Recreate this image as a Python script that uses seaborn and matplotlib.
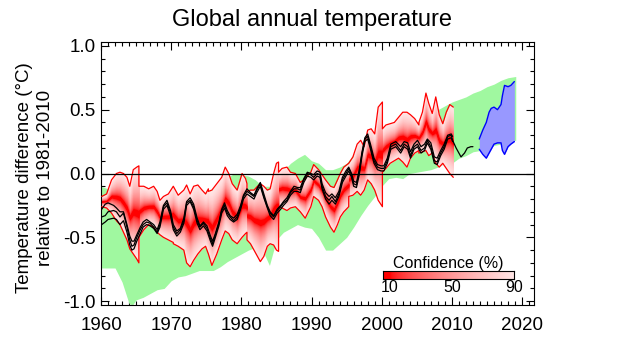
import statistics
import numpy as np
import pandas as pd
import matplotlib
matplotlib.use("Agg")
import matplotlib.pyplot as plt
from matplotlib.ticker import MultipleLocator, FormatStrFormatter
import seaborn as sns

# ---------------- data ----------------
title = "Global annual temperature"
ylabel_lines = ["Temperature difference (\u00b0C)", "relative to 1981-2010"]
legend_title = "Confidence (%)"
legend_ticks = [10, 50, 90]

# green band (hindcast spread)
green_years = [1960.0, 1961, 1962, 1963, 1964, 1964.5, 1965, 1966, 1967, 1968, 1969,
               1970, 1971, 1972, 1973, 1974, 1975, 1976, 1977, 1978, 1979,
               1980, 1981, 1982, 1983, 1984, 1985, 1986, 1987, 1988, 1989,
               1990, 1991, 1992, 1993, 1994, 1995, 1996, 1997, 1998, 1999,
               2000, 2001, 2002, 2003, 2004, 2005, 2006, 2007, 2008, 2009,
               2010, 2011, 2012, 2013, 2014, 2015, 2016, 2017, 2018, 2019.1]
green_upper = [-0.10, -0.12, -0.15, -0.20, -0.25, -0.28, -0.29, -0.30, -0.30, -0.30, -0.30,
               -0.25, -0.23, -0.22, -0.20, -0.17, -0.15, -0.12, -0.08, -0.03, 0.00,
               -0.01, -0.02, -0.05, -0.10, -0.10, -0.06, 0.02, 0.08, 0.12, 0.15,
               0.10, 0.08, 0.03, 0.03, 0.05, 0.08, 0.15, 0.20, 0.25, 0.28,
               0.30, 0.30, 0.32, 0.35, 0.38, 0.40, 0.42, 0.45, 0.50, 0.53,
               0.56, 0.58, 0.60, 0.63, 0.65, 0.68, 0.70, 0.73, 0.75, 0.76]
green_lower = [-0.74, -0.74, -0.74, -0.85, -1.02, -1.03, -0.99, -0.97, -0.94, -0.91, -0.90,
               -0.84, -0.81, -0.80, -0.78, -0.76, -0.76, -0.76, -0.73, -0.69, -0.66,
               -0.63, -0.60, -0.58, -0.60, -0.72, -0.52, -0.46, -0.43, -0.40, -0.42,
               -0.43, -0.50, -0.60, -0.60, -0.55, -0.50, -0.42, -0.33, -0.25, -0.18,
               -0.10, -0.04, -0.03, -0.04, 0.00, 0.01, 0.02, 0.03, 0.05, 0.08,
               0.08, 0.12, 0.14, 0.17, 0.18, 0.18, 0.22, 0.23, 0.25, 0.26]

# red confidence band (90 % limits), 5-year hindcast pieces
red_years = [1960.1, 1960.8, 1961.5, 1962.2, 1962.7, 1963.2, 1963.7, 1964.1, 1964.6, 1965.1, 1965.4,
             1965.4, 1966.1, 1966.8, 1967.5, 1968.0, 1968.4, 1968.9, 1969.6, 1970.3,
             1970.3, 1971.0, 1971.8, 1972.2, 1972.7, 1973.2, 1973.8, 1974.4, 1974.9, 1975.3,
             1975.3, 1975.8, 1976.5, 1977.2, 1977.7, 1978.2, 1978.7, 1979.4, 1980.1, 1980.6, 1980.8,
             1980.8, 1981.3, 1981.8, 1982.3, 1982.7, 1983.2, 1983.7, 1984.1, 1984.6, 1985.0, 1985.3,
             1985.3, 1985.8, 1986.5, 1987.0, 1987.7, 1988.4, 1989.1, 1989.9, 1990.3, 1991.0,
             1991.5, 1992.0, 1992.7, 1993.2, 1993.7, 1994.1, 1994.6, 1995.3,
             1995.3, 1995.9, 1996.5, 1997.0, 1997.5, 1998.0, 1998.5, 1999.0, 1999.5, 2000.1,
             2000.1, 2000.6, 2001.2, 2001.8, 2002.4, 2003.0, 2003.6, 2004.1, 2004.7, 2005.3,
             2005.3, 2005.8, 2006.3, 2006.7, 2007.2, 2007.7, 2008.2, 2008.7, 2009.2, 2009.7, 2010.2]
red_upper = [-0.18, -0.16, -0.05, 0.00, 0.01, 0.00, -0.03, -0.10, 0.03, 0.05, 0.06,
             -0.10, -0.10, -0.12, -0.10, -0.14, -0.21, -0.18, -0.16, -0.10,
             -0.10, -0.17, -0.13, -0.09, -0.16, -0.10, -0.09, -0.13, -0.16, -0.12,
             -0.14, -0.13, -0.08, -0.03, 0.05, 0.00, -0.08, -0.13, 0.00, -0.04, -0.08,
             -0.14, -0.13, -0.13, -0.10, -0.08, -0.10, -0.13, -0.12, 0.00, 0.08, 0.09,
             0.01, 0.04, 0.05, 0.01, 0.00, -0.07, -0.04, 0.01, 0.07, 0.03,
             -0.01, -0.05, -0.10, -0.11, -0.05, 0.00, 0.05, 0.08,
             0.08, 0.13, 0.23, 0.26, 0.21, 0.34, 0.35, 0.31, 0.52, 0.56,
             0.35, 0.38, 0.39, 0.40, 0.44, 0.48, 0.48, 0.46, 0.43, 0.38,
             0.40, 0.48, 0.63, 0.55, 0.47, 0.60, 0.46, 0.39, 0.48, 0.54, 0.52]
red_lower = [-0.26, -0.27, -0.31, -0.37, -0.40, -0.46, -0.52, -0.59, -0.63, -0.67, -0.70,
             -0.50, -0.44, -0.40, -0.42, -0.46, -0.48, -0.50, -0.52, -0.54,
             -0.55, -0.57, -0.60, -0.70, -0.73, -0.68, -0.63, -0.59, -0.57, -0.63,
             -0.63, -0.72, -0.63, -0.52, -0.45, -0.47, -0.52, -0.55, -0.50, -0.47, -0.46,
             -0.52, -0.55, -0.60, -0.65, -0.69, -0.65, -0.57, -0.55, -0.56, -0.60, -0.61,
             -0.26, -0.27, -0.29, -0.27, -0.26, -0.30, -0.35, -0.26, -0.18, -0.21,
             -0.26, -0.34, -0.42, -0.46, -0.40, -0.34, -0.30, -0.26,
             -0.18, -0.17, -0.14, -0.17, -0.13, -0.05, -0.08, -0.13, -0.21, -0.26,
             0.01, 0.04, 0.08, 0.10, 0.12, 0.09, 0.05, 0.12, 0.16, 0.18,
             0.16, 0.17, 0.18, 0.14, 0.16, 0.08, 0.05, 0.08, 0.04, 0.00, -0.03]

# blue forecast band
blue_years = [2013.9, 2014.4, 2014.9, 2015.3, 2015.6, 2016.0, 2016.5, 2017.0, 2017.2, 2017.5, 2018.0, 2018.4, 2018.9]
blue_upper = [0.27, 0.34, 0.40, 0.48, 0.51, 0.52, 0.50, 0.54, 0.61, 0.69, 0.68, 0.69, 0.72]
blue_lower = [0.19, 0.15, 0.12, 0.16, 0.19, 0.23, 0.24, 0.24, 0.18, 0.15, 0.21, 0.23, 0.25]

# observations (12-month running means)
obs_years = [1960.1, 1960.6, 1961.0, 1961.8, 1962.2, 1962.7, 1963.2, 1963.7, 1964.1, 1964.4, 1964.7,
             1965.1, 1965.6, 1966.0, 1966.5, 1967.0, 1967.5, 1968.0, 1968.4, 1968.9, 1969.4, 1969.9,
             1970.3, 1970.8, 1971.3, 1971.8, 1972.2, 1972.7, 1973.2, 1973.7, 1974.1, 1974.6, 1975.1,
             1975.6, 1975.9, 1976.3, 1976.8, 1977.2, 1977.6, 1978.0, 1978.4, 1978.9, 1979.4, 1979.9,
             1980.3, 1980.8, 1981.3, 1981.8, 1982.2, 1982.7, 1983.2, 1983.7, 1984.1, 1984.6, 1985.1,
             1985.6, 1986.0, 1986.5, 1987.0, 1987.5, 1988.0, 1988.4, 1988.9, 1989.4, 1989.9,
             1990.3, 1990.8, 1991.2, 1991.5, 1992.0, 1992.5, 1992.9, 1993.4, 1993.9, 1994.4, 1994.9,
             1995.3, 1995.7, 1996.0, 1996.4, 1996.8, 1997.2, 1997.6, 1998.0, 1998.4, 1998.9, 1999.4, 1999.9,
             2000.3, 2000.8, 2001.3, 2002.0, 2002.7, 2003.2, 2003.7, 2004.1, 2004.6, 2005.1,
             2005.6, 2006.1, 2006.5, 2007.0, 2007.5, 2007.9, 2008.4, 2008.9, 2009.4, 2009.9, 2010.1,
             2010.6, 2011.0, 2011.3, 2011.8, 2012.2, 2012.7, 2013.0]
obs_a = [-0.34, -0.33, -0.30, -0.29, -0.30, -0.34, -0.31, -0.42, -0.52, -0.57, -0.56,
         -0.50, -0.44, -0.40, -0.38, -0.39, -0.42, -0.46, -0.40, -0.26, -0.23, -0.31,
         -0.42, -0.47, -0.44, -0.37, -0.23, -0.21, -0.26, -0.37, -0.42, -0.39, -0.43,
         -0.51, -0.55, -0.48, -0.39, -0.29, -0.25, -0.31, -0.34, -0.37, -0.34, -0.26,
         -0.18, -0.14, -0.16, -0.18, -0.13, -0.08, -0.18, -0.26, -0.31, -0.34, -0.29,
         -0.26, -0.23, -0.21, -0.15, -0.12, -0.12, -0.13, -0.05, 0.00, -0.01,
         -0.03, 0.00, -0.01, -0.10, -0.18, -0.21, -0.18, -0.22, -0.16, -0.05, 0.00,
         0.04, -0.01, -0.08, -0.09, 0.01, 0.16, 0.27, 0.29, 0.21, 0.10, 0.05, 0.04,
         0.04, 0.10, 0.21, 0.23, 0.18, 0.23, 0.21, 0.14, 0.21, 0.23,
         0.18, 0.20, 0.26, 0.21, 0.10, 0.09, 0.16, 0.21, 0.29, 0.30, 0.26,
         0.20, 0.16, 0.13, 0.16, 0.20, 0.21, 0.21]
obs_b = [-0.28, -0.24, -0.23, -0.25, -0.27, -0.30, -0.30, -0.40, -0.49, -0.53, -0.53,
         -0.48, -0.42, -0.38, -0.36, -0.38, -0.40, -0.44, -0.38, -0.25, -0.21, -0.29,
         -0.40, -0.45, -0.43, -0.35, -0.22, -0.19, -0.24, -0.35, -0.41, -0.38, -0.41,
         -0.49, -0.53, -0.47, -0.38, -0.28, -0.23, -0.29, -0.33, -0.35, -0.32, -0.25,
         -0.17, -0.12, -0.15, -0.17, -0.12, -0.07, -0.16, -0.25, -0.30, -0.33, -0.28,
         -0.25, -0.22, -0.19, -0.14, -0.10, -0.11, -0.11, -0.04, 0.01, 0.00,
         -0.01, 0.02, 0.01, -0.08, -0.15, -0.18, -0.16, -0.19, -0.14, -0.03, 0.02,
         0.05, 0.00, -0.06, -0.07, 0.03, 0.17, 0.28, 0.31, 0.23, 0.12, 0.07, 0.06,
         0.06, 0.12, 0.23, 0.25, 0.21, 0.25, 0.24, 0.17, 0.23, 0.26,
         0.21, 0.23, 0.27, 0.24, 0.13, 0.12, 0.18, 0.23, 0.30, 0.31, 0.29]
obs_c = [-0.40, -0.38, -0.36, -0.35, -0.36, -0.40, -0.37, -0.46, -0.56, -0.60, -0.59,
         -0.53, -0.47, -0.42, -0.40, -0.41, -0.43, -0.47, -0.42, -0.28, -0.25, -0.33,
         -0.44, -0.49, -0.46, -0.39, -0.25, -0.22, -0.28, -0.39, -0.44, -0.41, -0.45,
         -0.53, -0.57, -0.50, -0.41, -0.31, -0.27, -0.33, -0.36, -0.38, -0.36, -0.28,
         -0.20, -0.16, -0.18, -0.20, -0.15, -0.10, -0.19, -0.27, -0.33, -0.36, -0.31,
         -0.28, -0.25, -0.22, -0.17, -0.14, -0.14, -0.15, -0.07, -0.02, -0.03,
         -0.05, -0.02, -0.03, -0.12, -0.20, -0.24, -0.21, -0.24, -0.18, -0.07, -0.02,
         0.02, -0.03, -0.10, -0.11, -0.01, 0.14, 0.25, 0.27, 0.19, 0.08, 0.03, 0.02,
         0.02, 0.08, 0.19, 0.21, 0.16, 0.21, 0.19, 0.12, 0.19, 0.21,
         0.16, 0.18, 0.24, 0.19, 0.08, 0.07, 0.14, 0.19, 0.27, 0.28, 0.25]

# ---------------- styling ----------------
sns.set_theme(style="ticks")
plt.rcParams['font.family'] = ['Liberation Sans', 'DejaVu Sans']
plt.rcParams['axes.unicode_minus'] = False
for k in ['text.color', 'axes.labelcolor', 'xtick.color', 'ytick.color', 'axes.edgecolor']:
    plt.rcParams[k] = 'black'

GREEN = '#a0f8a0'
RED = np.array([1.0, 0.0, 0.0])
PINK = np.array([1.0, 0.9, 0.9])


def conf_color(c):
    t = float(np.clip((c - 10.0) / 80.0, 0.0, 1.0)) ** 0.6
    return tuple(RED + t * (PINK - RED))


fig = plt.figure(figsize=(6.39, 3.46), dpi=100)
ax = fig.add_axes([101 / 639, 1 - 305 / 346, 433 / 639, 263 / 346])

# green band
ax.fill_between(green_years, green_lower, green_upper, color=GREEN, lw=0, zorder=1)

# red gradient band
ry = np.array(red_years)
ru = np.array(red_upper)
rl = np.array(red_lower)
mid = (ru + rl) / 2
half = (ru - rl) / 2
nd = statistics.NormalDist()
z90 = nd.inv_cdf(0.95)
for c in np.arange(90, 0, -2):
    r = nd.inv_cdf(0.5 + c / 200.0) / z90
    ax.fill_between(ry, mid - r * half, mid + r * half, color=conf_color(c), lw=0, zorder=2)
ax.plot(ry, ru, color='red', lw=0.9, zorder=3)
ax.plot(ry, rl, color='red', lw=0.9, zorder=3)

# blue band
ax.fill_between(blue_years, blue_lower, blue_upper, color='#9898ff', lw=0, zorder=2)
ax.plot(blue_years, blue_upper, color='#0000ff', lw=1.0, zorder=3)
ax.plot(blue_years, blue_lower, color='#0000ff', lw=1.0, zorder=3)

# zero line
ax.axhline(0.0, color='black', lw=0.9, zorder=4)

# observations
frames = []
for name, vals in [('a', obs_a), ('b', obs_b), ('c', obs_c)]:
    n = len(vals)
    frames.append(pd.DataFrame({'year': obs_years[:n], 'anom': vals, 'series': name}))
obs = pd.concat(frames, ignore_index=True)
sns.lineplot(data=obs, x='year', y='anom', units='series', estimator=None,
             color='black', lw=0.9, ax=ax, zorder=5, sort=False, legend=False)

# axes
ax.set_xlim(1960, 2021.7)
ax.set_ylim(-1.03, 1.03)
ax.set_xlabel('')
ax.set_ylabel('')
ax.xaxis.set_major_locator(MultipleLocator(10))
ax.xaxis.set_minor_locator(MultipleLocator(1))
ax.yaxis.set_major_locator(MultipleLocator(0.5))
ax.yaxis.set_minor_locator(MultipleLocator(0.1))
ax.yaxis.set_major_formatter(FormatStrFormatter('%.1f'))
ax.tick_params(which='both', direction='in', top=True, right=True, width=0.8, color='black')
ax.tick_params(which='major', length=6)
ax.tick_params(which='minor', length=3)
ax.tick_params(axis='x', which='major', pad=9, labelsize=13.5)
ax.tick_params(axis='y', which='major', pad=4, labelsize=13.5)
for s in ax.spines.values():
    s.set_color('black')
    s.set_linewidth(0.8)

fig.text(312 / 639, 1 - 20 / 346, title, ha='center', va='center', fontsize=17)
fig.text(25 / 639, 1 - 178 / 346, ylabel_lines[0], rotation=90, ha='center', va='center', fontsize=13.5)
fig.text(46 / 639, 1 - 178 / 346, ylabel_lines[1], rotation=90, ha='center', va='center', fontsize=13.5)

# confidence colour bar
cax = fig.add_axes([383 / 639, 1 - 279 / 346, 131 / 639, 8 / 346])
xs = np.linspace(5.5, 90, 300)
img = np.array([[conf_color(v) for v in xs]])
cax.imshow(img, extent=(5.5, 90, 0, 1), aspect='auto', origin='lower')
cax.set_xlim(5.5, 90)
cax.set_ylim(0, 1)
cax.set_xticks(legend_ticks)
cax.set_xticklabels([str(t) for t in legend_ticks])
cax.set_yticks([])
cax.tick_params(axis='x', length=0, pad=1, labelsize=11.5)
cax.set_title(legend_title, fontsize=11.5, pad=1)
for s in cax.spines.values():
    s.set_color('black')
    s.set_linewidth(0.8)

fig.savefig('out.png', dpi=100)
